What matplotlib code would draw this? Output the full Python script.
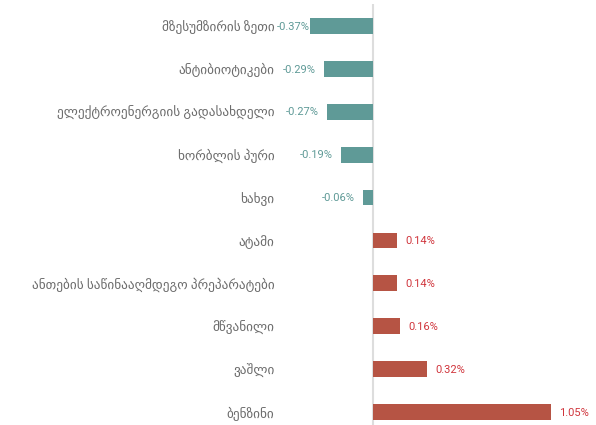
import numpy as np
import matplotlib
matplotlib.use("Agg")
import matplotlib.pyplot as plt

plt.rcParams['font.family'] = ['Roboto', 'DejaVu Sans']

categories = ["მზესუმზირის ზეთი", "ანტიბიოტიკები", "ელექტროენერგიის გადასახდელი",
              "ხორბლის პური", "ხახვი", "ატამი", "ანთების საწინააღმდეგო პრეპარატები",
              "მწვანილი", "ვაშლი", "ბენზინი"]
values = [-0.37, -0.29, -0.27, -0.19, -0.06, 0.14, 0.14, 0.16, 0.32, 1.05]

neg_bar = "#5f9a97"
pos_bar = "#b65444"
neg_txt = "#5f9a97"
pos_txt = "#d0353c"

W, H = 596, 425
fig = plt.figure(figsize=(W / 100, H / 100), dpi=100)
left_px, right_px = 276, 590
ax = fig.add_axes([left_px / W, -8.5 / H, (right_px - left_px) / W, 429 / H])

y = np.arange(len(categories))
colors = [neg_bar if v < 0 else pos_bar for v in values]
ax.barh(y, values, height=0.37, color=colors, zorder=2)
ax.axvline(0, color="#dddddd", lw=1.5, zorder=1)

ax.set_xlim(-0.572, 1.28)
ax.set_ylim(len(categories) - 0.5, -0.5)
ax.set_yticks(y)
ax.set_yticklabels(categories, fontsize=9.5, color="#6b6b6b")
ax.tick_params(axis="y", length=0, pad=1)
ax.set_xticks([])
for s in ax.spines.values():
    s.set_visible(False)

fig.canvas.draw()
renderer = fig.canvas.get_renderer()
ax_left = ax.get_window_extent().x0
for yi, v in zip(y, values):
    txt = f"{v:.2f}%"
    if v < 0:
        t = ax.annotate(txt, (v, yi), xytext=(-6, -0.5), textcoords="offset points",
                        ha="right", va="center", fontsize=8, color=neg_txt)
        bb = t.get_window_extent(renderer)
        if bb.x0 < ax_left:
            t.set_position((0, -0.5))
    else:
        ax.annotate(txt, (v, yi), xytext=(6, -0.5), textcoords="offset points",
                    ha="left", va="center", fontsize=8, color=pos_txt)

fig.savefig("out.png", dpi=100)
